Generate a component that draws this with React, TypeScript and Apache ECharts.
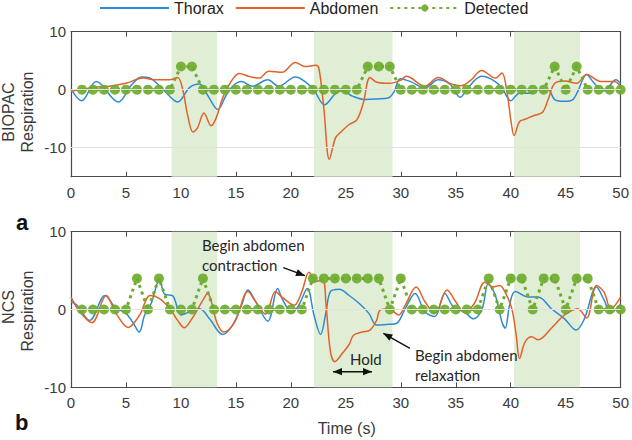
import React, { useEffect, useRef } from "react";
import * as echarts from "echarts";

// ---------- data ----------
const xTicks = [0, 5, 10, 15, 20, 25, 30, 35, 40, 45, 50];
const yTicks = [-10, 0, 10];
const shadeRanges = [
  [9.15, 13.3],
  [22.1, 29.25],
  [40.3, 46.3],
];

// Panel a (BIOPAC)
const thoraxA = [
  [0, 0.1], [0.97, -1.9], [2.3, 1.4], [4.3, -2.1], [5.5, 0.8], [6.4, 2.2], [7.2, 2.0],
  [8.4, 0.0], [9.7, -2.1], [10.8, 0.4], [11.7, 1.0], [12.5, -1.2], [13.35, -3.4],
  [14.1, -1.0], [14.7, 0.6], [15.5, 1.4], [16.5, 0.6], [17.9, 1.7], [18.9, 0.6],
  [20.4, 2.2], [21.95, 0.3], [23.07, -2.6], [24.1, -0.6], [24.7, -0.2], [25.6, -1.1],
  [26.8, -1.7], [27.8, -1.6], [28.9, -1.4], [29.4, -0.3], [29.95, 1.9], [30.9, 1.4],
  [32.2, 0.3], [33.4, 1.7], [34.5, 0.9], [35.4, -1.3], [36.1, 0.3], [37.35, 2.3],
  [38.6, 1.4], [39.3, 0.0], [40.0, -1.9], [40.8, -0.6], [41.7, -0.6], [42.5, 0.0],
  [43.4, 0.0], [44.0, -1.7], [44.9, -2.0], [45.65, -1.7], [46.1, -0.3], [46.9, 2.6],
  [47.6, 1.1], [48.5, -0.2], [49.57, 1.7], [50, 1.0],
];
const abdomenA = [
  [0, -0.3], [2.0, 0.4], [3.5, 0.6], [5.0, 1.1], [6.55, 2.0], [7.7, 1.7], [8.96, 1.7],
  [9.7, 2.1], [10.2, -0.3], [10.6, -4.3], [11.1, -7.3], [11.5, -6.6], [12.1, -4.0],
  [12.74, -6.2], [13.2, -4.9], [13.8, -1.4], [14.4, 0.9], [15.3, 2.8], [16.2, 2.3],
  [17.1, 2.0], [18.0, 3.2], [19.2, 3.0], [20.4, 4.7], [21.3, 4.0], [22.25, 4.2],
  [22.55, 3.7], [23.0, -3.2], [23.5, -12.0], [24.06, -8.3], [24.5, -7.4], [25.3, -6.0],
  [26.0, -5.2], [26.6, -2.2], [27.2, 2.1], [27.8, 1.3], [29.0, 1.1], [29.95, 1.6],
  [30.5, 2.3], [32.2, 0.6], [33.4, 2.1], [34.6, 1.0], [35.5, 0.7], [36.4, 1.7],
  [37.35, 3.3], [38.6, 2.0], [39.2, 2.9], [39.6, 0.3], [40.07, -6.0], [40.3, -7.9],
  [40.8, -5.5], [41.3, -5.1], [42.2, -4.4], [42.9, -3.9], [43.4, -1.7], [44.0, 1.1],
  [44.9, 1.5], [46.0, 1.1], [46.9, 2.6], [48.2, 1.4], [49.4, 1.4], [50, 0.6],
];

// Panel b (NCS)
const thoraxB = [
  [0, 1.0], [0.5, 0.6], [1.7, -1.4], [3.1, 1.8], [4.0, 0.3], [5.0, -0.5], [5.6, -1.6],
  [6.2, -2.9], [6.7, -0.7], [7.3, 0.8], [8.06, 3.9], [8.5, 2.0], [9.27, 1.75],
  [10.0, -0.7], [10.6, -0.4], [11.7, 0.1], [12.6, -1.2], [13.8, -3.2], [14.7, -2.0],
  [15.5, 0.5], [16.1, 2.5], [16.8, 1.0], [17.9, -1.5], [18.8, 2.7], [19.2, 1.4],
  [20.1, -0.4], [20.7, 0.5], [21.5, 2.7], [22.1, -0.7], [22.7, -3.2], [23.2, -0.3],
  [23.6, 2.3], [24.4, 2.6], [25.3, 1.8], [26.2, 0.8], [27.1, -0.5], [27.8, -2.0],
  [28.9, -1.9], [29.6, -1.8], [30.4, 0.1], [31.3, 2.05], [32.2, -0.3], [33.1, -0.9],
  [34.0, 2.05], [34.8, 0.3], [35.8, -0.3], [36.6, -1.2], [37.4, 0.1], [37.95, 3.3],
  [38.6, 1.8], [39.2, -1.6], [39.5, -2.4], [39.9, 0.6], [40.4, 2.3], [41.6, 1.6],
  [42.5, 1.6], [43.7, 0.1], [44.9, -1.2], [45.96, -2.65], [46.7, -1.2], [47.8, 2.9],
  [48.5, 1.2], [49.1, -0.4], [50, 0.7],
];
const abdomenB = [
  [0, 1.6], [0.8, -0.3], [1.9, -1.7], [3.2, 1.8], [4.1, -0.5], [5.2, -2.3], [6.25, -0.7],
  [7.2, 1.8], [8.06, 1.4], [9.0, 0.1], [9.7, -1.4], [10.3, -2.35], [10.9, -1.4],
  [12.0, 1.2], [12.4, 2.05], [13.3, -1.8], [13.9, -2.9], [14.9, -1.6], [16.1, 2.3],
  [16.8, 1.0], [17.7, -0.6], [18.6, 2.3], [19.2, 1.6], [20.3, 0.55], [21.0, 2.3],
  [21.65, 4.8], [22.25, 3.6], [22.9, 3.8], [23.2, 0.6], [23.6, -5.4], [24.0, -6.7],
  [24.7, -5.6], [25.3, -4.5], [25.7, -3.3], [26.5, -2.9], [27.2, -2.65], [27.8, -1.4],
  [28.1, -0.1], [28.9, 0.1], [29.8, -0.7], [30.4, 0.55], [31.4, 2.9], [32.2, 1.0],
  [33.1, -0.5], [34.2, 2.5], [35.0, 1.0], [35.8, -0.4], [36.7, 0.8], [37.65, 3.5],
  [38.4, 2.9], [39.0, 3.1], [39.5, 2.2], [40.1, 0.1], [40.5, -3.3], [40.8, -6.3],
  [41.3, -4.2], [41.9, -3.5], [42.5, -3.9], [43.7, -2.4], [44.9, -0.7], [46.1, 0.1],
  [46.9, -1.1], [47.8, 3.1], [48.5, 2.2], [49.1, 0.1], [50, 1.6],
];

// Detection (sampled every second)
const detectTimes = [
  1, 2, 3, 4, 5, 6, 7, 8, 9, 10, 11, 12, 13, 14, 15, 16, 17, 18, 19, 20, 21, 22, 23, 24, 25,
  26, 27, 28, 29, 30, 31, 32, 33, 34, 35, 36, 37, 38, 39, 40, 41, 42, 43, 44, 45, 46, 47, 48, 49, 50,
];
const detectedA = [
  0, 0, 0, 0, 0, 0, 0, 0, 0, 4, 4, 0, 0, 0, 0, 0, 0, 0, 0, 0, 0, 0, 0, 0, 0,
  0, 4, 4, 4, 0, 0, 0, 0, 0, 0, 0, 0, 0, 0, 0, 0, 0, 0, 4, 0, 4, 0, 0, 0, 0,
];
const detectedB = [
  0, 0, 0, 0, 0, 4, 0, 4, 0, 0, 0, 4, 0, 0, 0, 0, 0, 0, 0, 0, 0, 4, 4, 4, 4,
  4, 4, 4, 0, 4, 0, 0, 0, 0, 0, 0, 0, 4, 0, 4, 4, 0, 4, 4, 0, 4, 4, 0, 0, 0,
];

// ---------- styles ----------
const BLUE = "#2f8ad4";
const ORANGE = "#e2622a";
const GREEN = "#6fab2e";
const SHADE = "#e0eed6";
const AXIS = "#4a4a4a";
const GRIDLINE = "#e2e2e2";
const SANS = "'Liberation Sans', Arial, sans-serif";
const CAL = "Lato, 'Noto Sans', sans-serif";

function arrowHead(x1: number, y1: number, x2: number, y2: number, len = 9, half = 3.6) {
  const dx = x2 - x1;
  const dy = y2 - y1;
  const d = Math.sqrt(dx * dx + dy * dy);
  const ux = dx / d;
  const uy = dy / d;
  const bx = x2 - ux * len;
  const by = y2 - uy * len;
  return [
    [x2, y2],
    [bx - uy * half, by + ux * half],
    [bx + uy * half, by - ux * half],
  ];
}

function arrow(x1: number, y1: number, x2: number, y2: number, both = false) {
  const els: any[] = [
    { type: "line", z: 100, shape: { x1, y1, x2, y2 }, style: { stroke: "#111", lineWidth: 1.4 }, silent: true },
    { type: "polygon", z: 100, shape: { points: arrowHead(x1, y1, x2, y2) }, style: { fill: "#111" }, silent: true },
  ];
  if (both) {
    els.push({ type: "polygon", z: 100, shape: { points: arrowHead(x2, y2, x1, y1) }, style: { fill: "#111" }, silent: true });
  }
  return els;
}

function label(text: string, x: number, y: number, font: string, extra: any = {}) {
  return {
    type: "text",
    z: 100,
    x,
    y,
    silent: true,
    ...extra,
    style: { text, align: "left", verticalAlign: "middle", font, fill: "#262626", ...(extra.style || {}) },
  };
}

export default function App() {
  const ref = useRef<HTMLDivElement>(null);

  useEffect(() => {
    if (!ref.current) return;
    const chart = echarts.init(ref.current, undefined, { renderer: "svg" });

    const pair = (t: number[], v: number[]) => t.map((x, i) => [x, v[i]]);

    const xBottom = (gridIndex: number) => ({
      type: "value",
      gridIndex,
      min: 0,
      max: 50,
      interval: 5,
      position: "bottom",
      axisLine: { show: true, onZero: false, lineStyle: { color: AXIS, width: 1.2 } },
      axisTick: { show: true, inside: true, length: 5, customValues: xTicks, lineStyle: { color: AXIS } },
      axisLabel: { show: true, margin: 8, fontSize: 15, fontFamily: SANS, color: "#3a3a3a" },
      splitLine: { show: false },
    });
    const xTop = (gridIndex: number) => ({
      type: "value",
      gridIndex,
      min: 0,
      max: 50,
      interval: 5,
      position: "top",
      axisLine: { show: true, onZero: false, lineStyle: { color: AXIS, width: 1.2 } },
      axisTick: { show: true, inside: true, length: 5, lineStyle: { color: AXIS } },
      axisLabel: { show: false },
      splitLine: { show: false },
    });
    const yAx = (gridIndex: number, min: number, pos: string, labels: boolean) => ({
      type: "value",
      gridIndex,
      min,
      max: 10,
      interval: 5,
      position: pos,
      axisLine: { show: true, onZero: false, lineStyle: { color: AXIS, width: 1.2 } },
      axisTick: { show: true, inside: true, length: 5, customValues: yTicks, lineStyle: { color: AXIS } },
      axisLabel: {
        show: labels,
        customValues: yTicks,
        margin: 5,
        fontSize: 15,
        fontFamily: SANS,
        color: "#3a3a3a",
        formatter: (v: number) => (v % 10 === 0 ? String(v) : ""),
      },
      splitLine: { show: false },
    });

    const shadeSeries = (xi: number, yi: number, lines: number[]) => ({
      type: "line",
      name: "shade",
      xAxisIndex: xi,
      yAxisIndex: yi,
      data: [],
      z: 1,
      silent: true,
      markArea: {
        silent: true,
        itemStyle: { color: SHADE },
        data: shadeRanges.map((r) => [{ xAxis: r[0] }, { xAxis: r[1] }]),
      },
      markLine: {
        silent: true,
        symbol: ["none", "none"],
        label: { show: false },
        lineStyle: { color: GRIDLINE, type: "solid", width: 1 },
        data: lines.map((v) => ({ yAxis: v })),
      },
    });

    const curve = (name: string, color: string, data: number[][], xi: number, yi: number) => ({
      type: "line",
      name,
      xAxisIndex: xi,
      yAxisIndex: yi,
      data,
      smooth: 0.35,
      symbol: "none",
      z: 3,
      itemStyle: { color },
      lineStyle: { color, width: 1.5 },
    });

    const detected = (data: number[][], xi: number, yi: number) => ({
      type: "line",
      name: "Detected",
      xAxisIndex: xi,
      yAxisIndex: yi,
      data,
      symbol: "circle",
      symbolSize: 10,
      z: 4,
      itemStyle: { color: GREEN, opacity: 0.92 },
      lineStyle: { color: GREEN, width: 3, type: [3, 4] },
    });

    const option: any = {
      animation: false,
      legend: {
        data: [
          { name: "Thorax", itemStyle: { opacity: 0 } },
          { name: "Abdomen", itemStyle: { opacity: 0 } },
          { name: "Detected" },
        ],
        left: 94,
        top: -5,
        itemWidth: 69,
        itemHeight: 9,
        itemGap: 11,
        textStyle: { fontSize: 16, fontFamily: SANS, color: "#222" },
      },
      grid: [
        { left: 71, top: 31.7, width: 552, height: 145 },
        { left: 71, top: 231.7, width: 552, height: 155.6 },
      ],
      xAxis: [xBottom(0), xTop(0), xBottom(1), xTop(1)],
      yAxis: [yAx(0, -15, "left", true), yAx(0, -15, "right", false), yAx(1, -10, "left", true), yAx(1, -10, "right", false)],
      series: [
        shadeSeries(0, 0, [0, -10]),
        curve("Thorax", BLUE, thoraxA, 0, 0),
        curve("Abdomen", ORANGE, abdomenA, 0, 0),
        detected(pair(detectTimes, detectedA), 0, 0),
        shadeSeries(2, 2, [0]),
        curve("Thorax", BLUE, thoraxB, 2, 2),
        curve("Abdomen", ORANGE, abdomenB, 2, 2),
        detected(pair(detectTimes, detectedB), 2, 2),
      ],
      graphic: [
        label("BIOPAC", 8.5, 112, `16px ${SANS}`, { rotation: Math.PI / 2, style: { align: "center", fill: "#3a3a3a" } }),
        label("Respiration", 27.5, 112, `16px ${SANS}`, { rotation: Math.PI / 2, style: { align: "center", fill: "#3a3a3a" } }),
        label("NCS", 8.5, 307, `16px ${SANS}`, { rotation: Math.PI / 2, style: { align: "center", fill: "#3a3a3a" } }),
        label("Respiration", 27.5, 311, `16px ${SANS}`, { rotation: Math.PI / 2, style: { align: "center", fill: "#3a3a3a" } }),
        label("Time (s)", 346.7, 428, `16px ${SANS}`, { style: { align: "center", fill: "#3a3a3a" } }),
        label("a", 16, 222.5, `bold 22px ${SANS}`, { style: { fill: "#111" } }),
        label("b", 15, 422.5, `bold 22px ${SANS}`, { style: { fill: "#111" } }),
        label("Begin abdomen", 202, 245, `15px ${CAL}`),
        label("contraction", 202, 264.5, `15px ${CAL}`),
        label("Begin abdomen", 415, 355, `15px ${CAL}`),
        label("relaxation", 415, 374.5, `15px ${CAL}`),
        label("Hold", 350, 359, `15px ${CAL}`),
        ...arrow(283.3, 267.7, 305, 275.7),
        ...arrow(410, 348.3, 383.3, 333.3),
        ...arrow(333, 371.7, 372, 371.7, true),
      ],
    };

    chart.setOption(option);
    return () => chart.dispose();
  }, []);

  return <div ref={ref} style={{ position: "absolute", left: 0, top: 0, width: 632, height: 440 }} />;
}
